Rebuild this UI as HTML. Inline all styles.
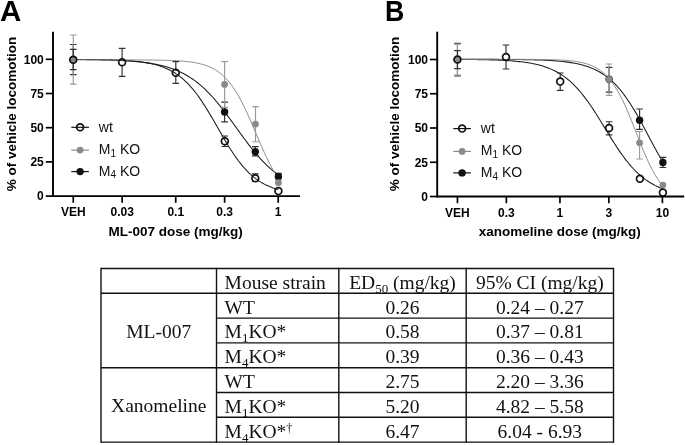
<!DOCTYPE html>
<html><head><meta charset="utf-8"><style>
html,body{margin:0;padding:0;background:#fff;width:685px;height:445px;overflow:hidden}
svg{display:block;will-change:transform;filter:blur(0.3px)}
text{font-family:"Liberation Sans",sans-serif;fill:#000}
.tk{font-size:12px;font-weight:bold}
.ttl{font-size:13.5px;font-weight:bold}
.let{font-size:29.5px;font-weight:bold}
.lg{font-size:14px;fill:#111}
.sb{font-size:10px}
.sup{font-size:12px}
.tb{font-family:"Liberation Serif",serif;font-size:19.5px;fill:#111}
.ts{font-size:13px}
</style></head><body>
<svg width="685" height="445" viewBox="0 0 685 445">
<path d="M73.26,59.48 L74.98,59.49 L76.70,59.51 L78.43,59.52 L80.15,59.54 L81.87,59.55 L83.59,59.57 L85.32,59.59 L87.04,59.61 L88.76,59.63 L90.48,59.66 L92.20,59.69 L93.93,59.71 L95.65,59.74 L97.37,59.78 L99.09,59.81 L100.81,59.85 L102.54,59.89 L104.26,59.93 L105.98,59.97 L107.70,60.02 L109.43,60.08 L111.15,60.13 L112.87,60.19 L114.59,60.26 L116.31,60.32 L118.04,60.40 L119.76,60.48 L121.48,60.56 L123.20,60.65 L124.93,60.75 L126.65,60.86 L128.37,60.97 L130.09,61.09 L131.81,61.21 L133.54,61.35 L135.26,61.50 L136.98,61.66 L138.70,61.82 L140.43,62.00 L142.15,62.20 L143.87,62.40 L145.59,62.62 L147.31,62.86 L149.04,63.11 L150.76,63.38 L152.48,63.66 L154.20,63.97 L155.92,64.30 L157.65,64.65 L159.37,65.02 L161.09,65.42 L162.81,65.84 L164.54,66.29 L166.26,66.77 L167.98,67.29 L169.70,67.83 L171.42,68.41 L173.15,69.02 L174.87,69.68 L176.59,70.37 L178.31,71.11 L180.04,71.89 L181.76,72.71 L183.48,73.58 L185.20,74.51 L186.92,75.48 L188.65,76.51 L190.37,77.59 L192.09,78.73 L193.81,79.93 L195.54,81.19 L197.26,82.51 L198.98,83.90 L200.70,85.35 L202.42,86.86 L204.15,88.43 L205.87,90.07 L207.59,91.78 L209.31,93.55 L211.03,95.38 L212.76,97.27 L214.48,99.22 L216.20,101.23 L217.92,103.30 L219.65,105.41 L221.37,107.58 L223.09,109.79 L224.81,112.04 L226.53,114.33 L228.26,116.64 L229.98,118.99 L231.70,121.35 L233.42,123.73 L235.15,126.12 L236.87,128.51 L238.59,130.90 L240.31,133.28 L242.03,135.64 L243.76,137.99 L245.48,140.31 L247.20,142.60 L248.92,144.85 L250.65,147.06 L252.37,149.23 L254.09,151.35 L255.81,153.42 L257.53,155.44 L259.26,157.40 L260.98,159.29 L262.70,161.13 L264.42,162.90 L266.14,164.61 L267.87,166.26 L269.59,167.84 L271.31,169.36 L273.03,170.81 L274.76,172.20 L276.48,173.53 L278.20,174.79" stroke="#1c1c1c" stroke-width="1.05" fill="none"/>
<path d="M73.26,59.38 L74.98,59.39 L76.70,59.40 L78.43,59.41 L80.15,59.42 L81.87,59.43 L83.59,59.44 L85.32,59.45 L87.04,59.47 L88.76,59.48 L90.48,59.50 L92.20,59.52 L93.93,59.54 L95.65,59.56 L97.37,59.58 L99.09,59.61 L100.81,59.64 L102.54,59.67 L104.26,59.70 L105.98,59.74 L107.70,59.78 L109.43,59.82 L111.15,59.87 L112.87,59.92 L114.59,59.98 L116.31,60.04 L118.04,60.11 L119.76,60.19 L121.48,60.27 L123.20,60.36 L124.93,60.45 L126.65,60.56 L128.37,60.68 L130.09,60.80 L131.81,60.94 L133.54,61.09 L135.26,61.25 L136.98,61.43 L138.70,61.62 L140.43,61.84 L142.15,62.07 L143.87,62.32 L145.59,62.59 L147.31,62.88 L149.04,63.21 L150.76,63.56 L152.48,63.94 L154.20,64.35 L155.92,64.80 L157.65,65.29 L159.37,65.82 L161.09,66.39 L162.81,67.01 L164.54,67.68 L166.26,68.40 L167.98,69.18 L169.70,70.03 L171.42,70.93 L173.15,71.91 L174.87,72.96 L176.59,74.09 L178.31,75.30 L180.04,76.59 L181.76,77.97 L183.48,79.45 L185.20,81.02 L186.92,82.68 L188.65,84.45 L190.37,86.31 L192.09,88.28 L193.81,90.35 L195.54,92.52 L197.26,94.80 L198.98,97.17 L200.70,99.64 L202.42,102.19 L204.15,104.84 L205.87,107.56 L207.59,110.35 L209.31,113.20 L211.03,116.11 L212.76,119.06 L214.48,122.04 L216.20,125.04 L217.92,128.05 L219.65,131.06 L221.37,134.05 L223.09,137.02 L224.81,139.95 L226.53,142.83 L228.26,145.65 L229.98,148.41 L231.70,151.09 L233.42,153.69 L235.15,156.20 L236.87,158.62 L238.59,160.95 L240.31,163.17 L242.03,165.29 L243.76,167.31 L245.48,169.23 L247.20,171.04 L248.92,172.76 L250.65,174.37 L252.37,175.89 L254.09,177.32 L255.81,178.66 L257.53,179.91 L259.26,181.08 L260.98,182.16 L262.70,183.18 L264.42,184.12 L266.14,184.99 L267.87,185.81 L269.59,186.56 L271.31,187.25 L273.03,187.90 L274.76,188.49 L276.48,189.04 L278.20,189.55" stroke="#1c1c1c" stroke-width="1.05" fill="none"/>
<path d="M73.26,59.89 L74.98,59.89 L76.70,59.89 L78.43,59.89 L80.15,59.89 L81.87,59.89 L83.59,59.89 L85.32,59.89 L87.04,59.89 L88.76,59.89 L90.48,59.89 L92.20,59.89 L93.93,59.89 L95.65,59.89 L97.37,59.89 L99.09,59.89 L100.81,59.90 L102.54,59.90 L104.26,59.90 L105.98,59.90 L107.70,59.90 L109.43,59.90 L111.15,59.90 L112.87,59.90 L114.59,59.90 L116.31,59.91 L118.04,59.91 L119.76,59.91 L121.48,59.91 L123.20,59.92 L124.93,59.92 L126.65,59.92 L128.37,59.93 L130.09,59.93 L131.81,59.94 L133.54,59.94 L135.26,59.95 L136.98,59.96 L138.70,59.96 L140.43,59.97 L142.15,59.98 L143.87,59.99 L145.59,60.01 L147.31,60.02 L149.04,60.04 L150.76,60.05 L152.48,60.07 L154.20,60.09 L155.92,60.12 L157.65,60.15 L159.37,60.18 L161.09,60.21 L162.81,60.25 L164.54,60.29 L166.26,60.34 L167.98,60.39 L169.70,60.45 L171.42,60.51 L173.15,60.59 L174.87,60.67 L176.59,60.76 L178.31,60.86 L180.04,60.97 L181.76,61.10 L183.48,61.24 L185.20,61.40 L186.92,61.58 L188.65,61.77 L190.37,61.99 L192.09,62.23 L193.81,62.50 L195.54,62.81 L197.26,63.14 L198.98,63.52 L200.70,63.93 L202.42,64.39 L204.15,64.90 L205.87,65.47 L207.59,66.10 L209.31,66.80 L211.03,67.57 L212.76,68.42 L214.48,69.36 L216.20,70.40 L217.92,71.54 L219.65,72.79 L221.37,74.16 L223.09,75.66 L224.81,77.29 L226.53,79.07 L228.26,81.00 L229.98,83.09 L231.70,85.35 L233.42,87.77 L235.15,90.37 L236.87,93.14 L238.59,96.09 L240.31,99.20 L242.03,102.48 L243.76,105.91 L245.48,109.49 L247.20,113.20 L248.92,117.02 L250.65,120.93 L252.37,124.91 L254.09,128.95 L255.81,133.00 L257.53,137.06 L259.26,141.09 L260.98,145.07 L262.70,148.97 L264.42,152.78 L266.14,156.48 L267.87,160.04 L269.59,163.46 L271.31,166.72 L273.03,169.82 L274.76,172.75 L276.48,175.51 L278.20,178.09" stroke="#8a8a8a" stroke-width="1.0" fill="none"/>
<path d="M73.26,44.50V74.60M69.96,44.50H76.56M69.96,74.60H76.56" stroke="#303030" stroke-width="1.15" fill="none"/>
<circle cx="73.26" cy="59.80" r="3.7" fill="#111"/>
<path d="M224.60,102.10V121.80M221.30,102.10H227.90M221.30,121.80H227.90" stroke="#303030" stroke-width="1.15" fill="none"/>
<circle cx="224.60" cy="112.00" r="3.7" fill="#111"/>
<path d="M255.30,146.60V155.90M252.00,146.60H258.60M252.00,155.90H258.60" stroke="#303030" stroke-width="1.15" fill="none"/>
<circle cx="255.30" cy="151.80" r="3.7" fill="#111"/>
<path d="M278.40,173.30V179.00M275.10,173.30H281.70M275.10,179.00H281.70" stroke="#303030" stroke-width="1.15" fill="none"/>
<circle cx="278.40" cy="176.50" r="3.7" fill="#111"/>
<path d="M73.26,35.00V84.10M69.96,35.00H76.56M69.96,84.10H76.56" stroke="#999" stroke-width="1.15" fill="none"/>
<circle cx="73.26" cy="59.80" r="3.4" fill="#8a8a8a"/>
<path d="M224.60,61.60V107.30M221.30,61.60H227.90M221.30,107.30H227.90" stroke="#999" stroke-width="1.15" fill="none"/>
<circle cx="224.60" cy="84.40" r="3.4" fill="#8a8a8a"/>
<path d="M255.50,106.60V141.70M252.20,106.60H258.80M252.20,141.70H258.80" stroke="#999" stroke-width="1.15" fill="none"/>
<circle cx="255.50" cy="124.10" r="3.4" fill="#8a8a8a"/>
<circle cx="278.40" cy="182.70" r="3.4" fill="#8a8a8a"/>
<path d="M73.26,49.40V56.40M73.26,63.20V69.60M69.96,49.40H76.56M69.96,69.60H76.56" stroke="#303030" stroke-width="1.15" fill="none"/>
<circle cx="73.26" cy="59.80" r="3.4" fill="none" stroke="#111" stroke-width="1.7"/>
<path d="M122.10,48.40V58.80M122.10,65.60V76.40M118.80,48.40H125.40M118.80,76.40H125.40" stroke="#303030" stroke-width="1.15" fill="none"/>
<circle cx="122.10" cy="62.20" r="3.4" fill="none" stroke="#111" stroke-width="1.7"/>
<path d="M175.80,61.60V69.30M175.80,76.10V83.40M172.50,61.60H179.10M172.50,83.40H179.10" stroke="#303030" stroke-width="1.15" fill="none"/>
<circle cx="175.80" cy="72.70" r="3.4" fill="none" stroke="#111" stroke-width="1.7"/>
<path d="M224.80,136.00V137.90M224.80,144.70V146.50M221.50,136.00H228.10M221.50,146.50H228.10" stroke="#303030" stroke-width="1.15" fill="none"/>
<circle cx="224.80" cy="141.30" r="3.4" fill="none" stroke="#111" stroke-width="1.7"/>
<path d="M255.30,173.90V174.80M255.30,181.50V181.50M252.00,173.90H258.60M252.00,181.50H258.60" stroke="#303030" stroke-width="1.15" fill="none"/>
<circle cx="255.30" cy="178.20" r="3.4" fill="none" stroke="#111" stroke-width="1.7"/>
<circle cx="278.40" cy="191.10" r="3.4" fill="none" stroke="#111" stroke-width="1.7"/>
<path d="M53.00,31.7V197.00" stroke="#000" stroke-width="1.9" fill="none"/>
<path d="M52.00,196.10H300.00" stroke="#000" stroke-width="1.8" fill="none"/>
<path d="M45.80,196.10H53.00" stroke="#000" stroke-width="1.7"/>
<text x="43.80" y="200.40" text-anchor="end" class="tk">0</text>
<path d="M45.80,161.90H53.00" stroke="#000" stroke-width="1.7"/>
<text x="43.80" y="166.20" text-anchor="end" class="tk">25</text>
<path d="M45.80,127.70H53.00" stroke="#000" stroke-width="1.7"/>
<text x="43.80" y="132.00" text-anchor="end" class="tk">50</text>
<path d="M45.80,93.50H53.00" stroke="#000" stroke-width="1.7"/>
<text x="43.80" y="97.80" text-anchor="end" class="tk">75</text>
<path d="M45.80,59.30H53.00" stroke="#000" stroke-width="1.7"/>
<text x="43.80" y="63.60" text-anchor="end" class="tk">100</text>
<path d="M73.26,196.30V202.80" stroke="#000" stroke-width="1.7"/>
<text x="73.26" y="216.30" text-anchor="middle" class="tk">VEH</text>
<path d="M122.15,196.30V202.80" stroke="#000" stroke-width="1.7"/>
<text x="122.15" y="216.30" text-anchor="middle" class="tk">0.03</text>
<path d="M175.73,196.30V202.80" stroke="#000" stroke-width="1.7"/>
<text x="175.73" y="216.30" text-anchor="middle" class="tk">0.1</text>
<path d="M224.62,196.30V202.80" stroke="#000" stroke-width="1.7"/>
<text x="224.62" y="216.30" text-anchor="middle" class="tk">0.3</text>
<path d="M278.20,196.30V202.80" stroke="#000" stroke-width="1.7"/>
<text x="278.20" y="216.30" text-anchor="middle" class="tk">1</text>
<text x="175.60" y="235.60" text-anchor="middle" class="ttl">ML-007 dose (mg/kg)</text>
<text transform="translate(15.90,114.05) rotate(-90)" text-anchor="middle" class="ttl">% of vehicle locomotion</text>
<text transform="translate(0.0,20.6) scale(1.0,1)" class="let">A</text>
<path d="M71.30,127.30H88.90" stroke="#111" stroke-width="1.2"/>
<circle cx="80.10" cy="127.30" r="3.4" fill="none" stroke="#111" stroke-width="1.7"/>
<text x="98.80" y="131.90" class="lg">wt</text>
<path d="M71.30,150.10H88.90" stroke="#8a8a8a" stroke-width="1.2"/>
<circle cx="80.10" cy="150.10" r="3.4" fill="#8a8a8a"/>
<text x="98.80" y="153.90" class="lg">M<tspan class="sb" dy="2.6">1</tspan><tspan dy="-2.6"> KO</tspan></text>
<path d="M71.30,171.60H88.90" stroke="#111" stroke-width="1.2"/>
<circle cx="80.10" cy="171.60" r="3.7" fill="#111"/>
<text x="98.80" y="175.70" class="lg">M<tspan class="sb" dy="2.6">4</tspan><tspan dy="-2.6"> KO</tspan></text>
<path d="M457.46,59.31 L459.18,59.31 L460.90,59.31 L462.63,59.32 L464.35,59.32 L466.07,59.32 L467.79,59.32 L469.52,59.32 L471.24,59.32 L472.96,59.33 L474.68,59.33 L476.40,59.33 L478.13,59.33 L479.85,59.34 L481.57,59.34 L483.29,59.34 L485.01,59.35 L486.74,59.35 L488.46,59.36 L490.18,59.36 L491.90,59.37 L493.63,59.37 L495.35,59.38 L497.07,59.39 L498.79,59.40 L500.51,59.41 L502.24,59.41 L503.96,59.42 L505.68,59.44 L507.40,59.45 L509.13,59.46 L510.85,59.47 L512.57,59.49 L514.29,59.51 L516.01,59.53 L517.74,59.54 L519.46,59.57 L521.18,59.59 L522.90,59.62 L524.63,59.64 L526.35,59.67 L528.07,59.71 L529.79,59.74 L531.51,59.78 L533.24,59.82 L534.96,59.87 L536.68,59.92 L538.40,59.98 L540.12,60.04 L541.85,60.10 L543.57,60.17 L545.29,60.25 L547.01,60.33 L548.74,60.42 L550.46,60.52 L552.18,60.63 L553.90,60.74 L555.62,60.87 L557.35,61.01 L559.07,61.15 L560.79,61.32 L562.51,61.49 L564.24,61.68 L565.96,61.89 L567.68,62.12 L569.40,62.36 L571.12,62.62 L572.85,62.91 L574.57,63.22 L576.29,63.56 L578.01,63.93 L579.74,64.32 L581.46,64.75 L583.18,65.21 L584.90,65.72 L586.62,66.26 L588.35,66.84 L590.07,67.48 L591.79,68.16 L593.51,68.89 L595.23,69.68 L596.96,70.53 L598.68,71.45 L600.40,72.43 L602.12,73.49 L603.85,74.62 L605.57,75.83 L607.29,77.12 L609.01,78.50 L610.73,79.97 L612.46,81.53 L614.18,83.19 L615.90,84.95 L617.62,86.82 L619.35,88.78 L621.07,90.86 L622.79,93.03 L624.51,95.32 L626.23,97.71 L627.96,100.20 L629.68,102.79 L631.40,105.48 L633.12,108.27 L634.85,111.14 L636.57,114.09 L638.29,117.11 L640.01,120.19 L641.73,123.33 L643.46,126.52 L645.18,129.73 L646.90,132.97 L648.62,136.23 L650.34,139.48 L652.07,142.71 L653.79,145.93 L655.51,149.11 L657.23,152.24 L658.96,155.32 L660.68,158.33 L662.40,161.27" stroke="#1c1c1c" stroke-width="1.05" fill="none"/>
<path d="M457.46,59.42 L459.18,59.43 L460.90,59.44 L462.63,59.46 L464.35,59.47 L466.07,59.48 L467.79,59.50 L469.52,59.52 L471.24,59.54 L472.96,59.56 L474.68,59.58 L476.40,59.60 L478.13,59.63 L479.85,59.65 L481.57,59.68 L483.29,59.72 L485.01,59.75 L486.74,59.79 L488.46,59.83 L490.18,59.88 L491.90,59.93 L493.63,59.98 L495.35,60.04 L497.07,60.10 L498.79,60.17 L500.51,60.24 L502.24,60.32 L503.96,60.41 L505.68,60.51 L507.40,60.61 L509.13,60.72 L510.85,60.84 L512.57,60.97 L514.29,61.11 L516.01,61.26 L517.74,61.43 L519.46,61.61 L521.18,61.80 L522.90,62.01 L524.63,62.24 L526.35,62.48 L528.07,62.75 L529.79,63.03 L531.51,63.34 L533.24,63.68 L534.96,64.04 L536.68,64.43 L538.40,64.85 L540.12,65.31 L541.85,65.80 L543.57,66.32 L545.29,66.89 L547.01,67.50 L548.74,68.16 L550.46,68.86 L552.18,69.62 L553.90,70.43 L555.62,71.30 L557.35,72.23 L559.07,73.22 L560.79,74.29 L562.51,75.42 L564.24,76.62 L565.96,77.90 L567.68,79.26 L569.40,80.71 L571.12,82.23 L572.85,83.84 L574.57,85.54 L576.29,87.33 L578.01,89.21 L579.74,91.17 L581.46,93.23 L583.18,95.37 L584.90,97.60 L586.62,99.90 L588.35,102.29 L590.07,104.76 L591.79,107.29 L593.51,109.88 L595.23,112.54 L596.96,115.24 L598.68,117.99 L600.40,120.76 L602.12,123.57 L603.85,126.39 L605.57,129.21 L607.29,132.03 L609.01,134.84 L610.73,137.62 L612.46,140.37 L614.18,143.09 L615.90,145.75 L617.62,148.36 L619.35,150.91 L621.07,153.39 L622.79,155.80 L624.51,158.13 L626.23,160.37 L627.96,162.54 L629.68,164.61 L631.40,166.60 L633.12,168.49 L634.85,170.30 L636.57,172.02 L638.29,173.65 L640.01,175.20 L641.73,176.66 L643.46,178.04 L645.18,179.34 L646.90,180.56 L648.62,181.71 L650.34,182.79 L652.07,183.80 L653.79,184.74 L655.51,185.63 L657.23,186.45 L658.96,187.22 L660.68,187.94 L662.40,188.61" stroke="#1c1c1c" stroke-width="1.05" fill="none"/>
<path d="M457.46,59.30 L459.18,59.30 L460.90,59.30 L462.63,59.30 L464.35,59.30 L466.07,59.30 L467.79,59.30 L469.52,59.30 L471.24,59.30 L472.96,59.30 L474.68,59.30 L476.40,59.30 L478.13,59.30 L479.85,59.30 L481.57,59.30 L483.29,59.30 L485.01,59.30 L486.74,59.30 L488.46,59.31 L490.18,59.31 L491.90,59.31 L493.63,59.31 L495.35,59.31 L497.07,59.31 L498.79,59.31 L500.51,59.31 L502.24,59.31 L503.96,59.31 L505.68,59.32 L507.40,59.32 L509.13,59.32 L510.85,59.32 L512.57,59.33 L514.29,59.33 L516.01,59.33 L517.74,59.34 L519.46,59.34 L521.18,59.35 L522.90,59.36 L524.63,59.36 L526.35,59.37 L528.07,59.38 L529.79,59.39 L531.51,59.40 L533.24,59.41 L534.96,59.43 L536.68,59.44 L538.40,59.46 L540.12,59.48 L541.85,59.51 L543.57,59.53 L545.29,59.56 L547.01,59.59 L548.74,59.63 L550.46,59.67 L552.18,59.72 L553.90,59.78 L555.62,59.84 L557.35,59.90 L559.07,59.98 L560.79,60.07 L562.51,60.16 L564.24,60.27 L565.96,60.40 L567.68,60.53 L569.40,60.69 L571.12,60.87 L572.85,61.06 L574.57,61.28 L576.29,61.53 L578.01,61.81 L579.74,62.13 L581.46,62.48 L583.18,62.87 L584.90,63.31 L586.62,63.81 L588.35,64.36 L590.07,64.98 L591.79,65.68 L593.51,66.45 L595.23,67.31 L596.96,68.27 L598.68,69.33 L600.40,70.51 L602.12,71.82 L603.85,73.26 L605.57,74.85 L607.29,76.59 L609.01,78.50 L610.73,80.59 L612.46,82.87 L614.18,85.34 L615.90,88.00 L617.62,90.87 L619.35,93.94 L621.07,97.21 L622.79,100.67 L624.51,104.32 L626.23,108.14 L627.96,112.12 L629.68,116.23 L631.40,120.46 L633.12,124.76 L634.85,129.13 L636.57,133.52 L638.29,137.90 L640.01,142.24 L641.73,146.52 L643.46,150.69 L645.18,154.75 L646.90,158.66 L648.62,162.41 L650.34,165.99 L652.07,169.37 L653.79,172.55 L655.51,175.53 L657.23,178.31 L658.96,180.89 L660.68,183.28 L662.40,185.47" stroke="#8a8a8a" stroke-width="1.0" fill="none"/>
<path d="M457.46,43.30V75.90M454.16,43.30H460.76M454.16,75.90H460.76" stroke="#303030" stroke-width="1.15" fill="none"/>
<circle cx="457.46" cy="59.60" r="3.7" fill="#111"/>
<path d="M609.10,67.40V92.10M605.80,67.40H612.40M605.80,92.10H612.40" stroke="#303030" stroke-width="1.15" fill="none"/>
<circle cx="609.10" cy="79.30" r="3.7" fill="#111"/>
<path d="M639.60,109.00V129.30M636.30,109.00H642.90M636.30,129.30H642.90" stroke="#303030" stroke-width="1.15" fill="none"/>
<circle cx="639.60" cy="120.30" r="3.7" fill="#111"/>
<path d="M662.90,157.40V167.50M659.60,157.40H666.20M659.60,167.50H666.20" stroke="#303030" stroke-width="1.15" fill="none"/>
<circle cx="662.90" cy="162.50" r="3.7" fill="#111"/>
<path d="M457.46,44.10V75.10M454.16,44.10H460.76M454.16,75.10H460.76" stroke="#999" stroke-width="1.15" fill="none"/>
<circle cx="457.46" cy="59.60" r="3.4" fill="#8a8a8a"/>
<path d="M609.10,64.00V95.40M605.80,64.00H612.40M605.80,95.40H612.40" stroke="#999" stroke-width="1.15" fill="none"/>
<circle cx="609.10" cy="79.30" r="3.4" fill="#8a8a8a"/>
<path d="M639.60,131.50V159.00M636.30,131.50H642.90M636.30,159.00H642.90" stroke="#999" stroke-width="1.15" fill="none"/>
<circle cx="639.60" cy="142.80" r="3.4" fill="#8a8a8a"/>
<circle cx="662.90" cy="185.10" r="3.4" fill="#8a8a8a"/>
<path d="M457.46,50.60V56.20M457.46,63.00V68.60M454.16,50.60H460.76M454.16,68.60H460.76" stroke="#303030" stroke-width="1.15" fill="none"/>
<circle cx="457.46" cy="59.60" r="3.4" fill="none" stroke="#111" stroke-width="1.7"/>
<path d="M506.00,45.00V53.70M506.00,60.50V69.00M502.70,45.00H509.30M502.70,69.00H509.30" stroke="#303030" stroke-width="1.15" fill="none"/>
<circle cx="506.00" cy="57.10" r="3.4" fill="none" stroke="#111" stroke-width="1.7"/>
<path d="M560.20,73.00V78.20M560.20,85.00V90.40M556.90,73.00H563.50M556.90,90.40H563.50" stroke="#303030" stroke-width="1.15" fill="none"/>
<circle cx="560.20" cy="81.60" r="3.4" fill="none" stroke="#111" stroke-width="1.7"/>
<path d="M609.10,121.70V124.60M609.10,131.40V134.80M605.80,121.70H612.40M605.80,134.80H612.40" stroke="#303030" stroke-width="1.15" fill="none"/>
<circle cx="609.10" cy="128.00" r="3.4" fill="none" stroke="#111" stroke-width="1.7"/>
<circle cx="639.90" cy="178.80" r="3.4" fill="none" stroke="#111" stroke-width="1.7"/>
<circle cx="662.90" cy="192.60" r="3.4" fill="none" stroke="#111" stroke-width="1.7"/>
<path d="M437.20,31.7V197.40" stroke="#000" stroke-width="1.9" fill="none"/>
<path d="M436.20,196.50H684.20" stroke="#000" stroke-width="1.8" fill="none"/>
<path d="M430.00,196.50H437.20" stroke="#000" stroke-width="1.7"/>
<text x="428.00" y="200.80" text-anchor="end" class="tk">0</text>
<path d="M430.00,162.25H437.20" stroke="#000" stroke-width="1.7"/>
<text x="428.00" y="166.55" text-anchor="end" class="tk">25</text>
<path d="M430.00,128.00H437.20" stroke="#000" stroke-width="1.7"/>
<text x="428.00" y="132.30" text-anchor="end" class="tk">50</text>
<path d="M430.00,93.75H437.20" stroke="#000" stroke-width="1.7"/>
<text x="428.00" y="98.05" text-anchor="end" class="tk">75</text>
<path d="M430.00,59.50H437.20" stroke="#000" stroke-width="1.7"/>
<text x="428.00" y="63.80" text-anchor="end" class="tk">100</text>
<path d="M457.46,196.70V203.20" stroke="#000" stroke-width="1.7"/>
<text x="457.46" y="216.70" text-anchor="middle" class="tk">VEH</text>
<path d="M506.35,196.70V203.20" stroke="#000" stroke-width="1.7"/>
<text x="506.35" y="216.70" text-anchor="middle" class="tk">0.3</text>
<path d="M559.93,196.70V203.20" stroke="#000" stroke-width="1.7"/>
<text x="559.93" y="216.70" text-anchor="middle" class="tk">1</text>
<path d="M608.82,196.70V203.20" stroke="#000" stroke-width="1.7"/>
<text x="608.82" y="216.70" text-anchor="middle" class="tk">3</text>
<path d="M662.40,196.70V203.20" stroke="#000" stroke-width="1.7"/>
<text x="662.40" y="216.70" text-anchor="middle" class="tk">10</text>
<text x="559.80" y="236.00" text-anchor="middle" class="ttl">xanomeline dose (mg/kg)</text>
<text transform="translate(398.90,114.05) rotate(-90)" text-anchor="middle" class="ttl">% of vehicle locomotion</text>
<text transform="translate(385.0,20.6) scale(0.905,1)" class="let">B</text>
<path d="M453.30,128.60H470.90" stroke="#111" stroke-width="1.2"/>
<circle cx="462.10" cy="128.60" r="3.4" fill="none" stroke="#111" stroke-width="1.7"/>
<text x="480.80" y="133.20" class="lg">wt</text>
<path d="M453.30,151.40H470.90" stroke="#8a8a8a" stroke-width="1.2"/>
<circle cx="462.10" cy="151.40" r="3.4" fill="#8a8a8a"/>
<text x="480.80" y="155.20" class="lg">M<tspan class="sb" dy="2.6">1</tspan><tspan dy="-2.6"> KO</tspan></text>
<path d="M453.30,172.90H470.90" stroke="#111" stroke-width="1.2"/>
<circle cx="462.10" cy="172.90" r="3.7" fill="#111"/>
<text x="480.80" y="177.00" class="lg">M<tspan class="sb" dy="2.6">4</tspan><tspan dy="-2.6"> KO</tspan></text>
<path d="M101.00,267.80V442.80" stroke="#111" stroke-width="1.4"/>
<path d="M216.50,267.80V442.80" stroke="#111" stroke-width="1.4"/>
<path d="M338.80,267.80V442.80" stroke="#111" stroke-width="1.4"/>
<path d="M466.20,267.80V442.80" stroke="#111" stroke-width="1.4"/>
<path d="M613.50,267.80V442.80" stroke="#111" stroke-width="1.4"/>
<path d="M101.00,268.50H613.50" stroke="#111" stroke-width="1.4"/>
<path d="M101.00,293.30H613.50" stroke="#111" stroke-width="1.4"/>
<path d="M216.50,318.10H613.50" stroke="#111" stroke-width="1.4"/>
<path d="M216.50,342.90H613.50" stroke="#111" stroke-width="1.4"/>
<path d="M101.00,367.70H613.50" stroke="#111" stroke-width="1.4"/>
<path d="M216.50,392.50H613.50" stroke="#111" stroke-width="1.4"/>
<path d="M216.50,417.30H613.50" stroke="#111" stroke-width="1.4"/>
<path d="M101.00,442.10H613.50" stroke="#111" stroke-width="1.4"/>
<text x="224.60" y="288.70" text-anchor="start" class="tb">Mouse strain</text>
<text x="402.50" y="288.70" text-anchor="middle" class="tb">ED<tspan class="ts" dy="4">50</tspan><tspan dy="-4"> (mg/kg)</tspan></text>
<text x="539.85" y="288.70" text-anchor="middle" class="tb">95% CI (mg/kg)</text>
<text x="224.60" y="313.50" text-anchor="start" class="tb">WT</text>
<text x="402.50" y="313.50" text-anchor="middle" class="tb">0.26</text>
<text x="539.85" y="313.50" text-anchor="middle" class="tb">0.24 – 0.27</text>
<text x="224.60" y="338.30" text-anchor="start" class="tb">M<tspan class="ts" dy="4">1</tspan><tspan dy="-4">KO*</tspan></text>
<text x="402.50" y="338.30" text-anchor="middle" class="tb">0.58</text>
<text x="539.85" y="338.30" text-anchor="middle" class="tb">0.37 – 0.81</text>
<text x="224.60" y="363.10" text-anchor="start" class="tb">M<tspan class="ts" dy="4">4</tspan><tspan dy="-4">KO*</tspan></text>
<text x="402.50" y="363.10" text-anchor="middle" class="tb">0.39</text>
<text x="539.85" y="363.10" text-anchor="middle" class="tb">0.36 – 0.43</text>
<text x="224.60" y="387.90" text-anchor="start" class="tb">WT</text>
<text x="402.50" y="387.90" text-anchor="middle" class="tb">2.75</text>
<text x="539.85" y="387.90" text-anchor="middle" class="tb">2.20 – 3.36</text>
<text x="224.60" y="412.70" text-anchor="start" class="tb">M<tspan class="ts" dy="4">1</tspan><tspan dy="-4">KO*</tspan></text>
<text x="402.50" y="412.70" text-anchor="middle" class="tb">5.20</text>
<text x="539.85" y="412.70" text-anchor="middle" class="tb">4.82 – 5.58</text>
<text x="224.60" y="437.50" text-anchor="start" class="tb">M<tspan class="ts" dy="4">4</tspan><tspan dy="-4">KO*<tspan class="sup" dy="-5.6">†</tspan></tspan></text>
<text x="402.50" y="437.50" text-anchor="middle" class="tb">6.47</text>
<text x="539.85" y="437.50" text-anchor="middle" class="tb">6.04 - 6.93</text>
<text x="158.75" y="337.50" text-anchor="middle" class="tb">ML-007</text>
<text x="158.75" y="411.90" text-anchor="middle" class="tb">Xanomeline</text>
</svg>
</body></html>
